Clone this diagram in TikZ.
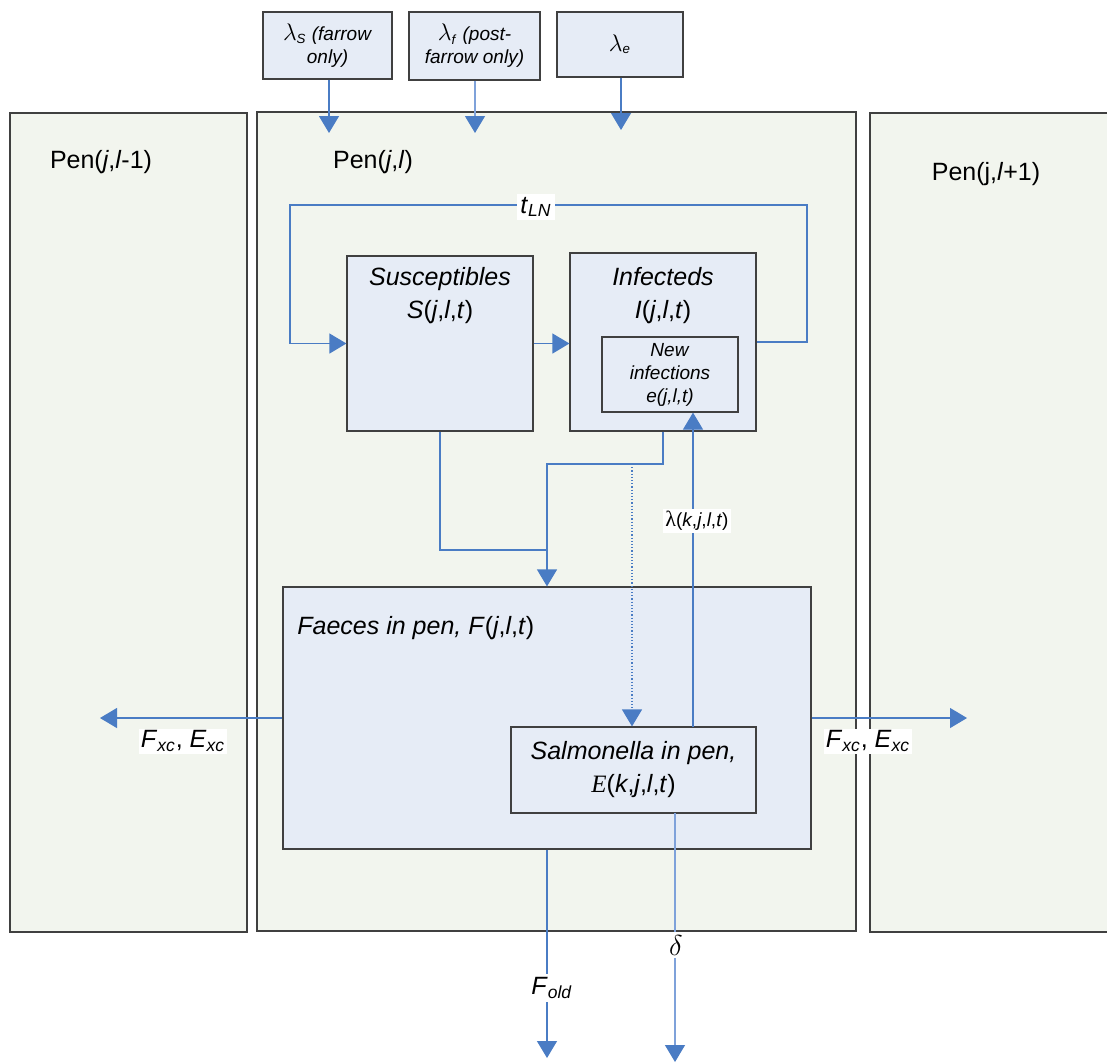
\documentclass[tikz,border=0pt]{standalone}
\usepackage{fontspec}
\setmainfont{Liberation Sans}
\newfontfamily\serifE{Liberation Serif}
\usetikzlibrary{arrows.meta}
\definecolor{penfill}{HTML}{F2F5EE}
\definecolor{boxfill}{HTML}{E6ECF6}
\definecolor{flowblue}{HTML}{4A7CC4}
\definecolor{paleblue}{HTML}{7FA2DA}
\definecolor{edgegrey}{HTML}{404040}
\newcommand{\biglam}{{\fontsize{13}{13}\selectfont$\lambda$}}
\tikzset{
  penbox/.style={draw=edgegrey, fill=penfill, line width=0.6pt, inner sep=0pt},
  compbox/.style={draw=edgegrey, fill=boxfill, line width=0.6pt, inner sep=0pt},
  txt/.style={font=\fontsize{12.5}{16.5}\selectfont, align=center, inner sep=1pt},
  smalltxt/.style={font=\fontsize{9.5}{11.5}\selectfont, align=center, inner sep=1pt},
  lbl/.style={fill=white, inner sep=1.5pt},
  flow/.style={draw=flowblue, line width=0.6pt, -{Triangle[length=8.5pt, width=10pt]}},
  link/.style={draw=flowblue, line width=0.6pt}
}
\begin{document}
\begin{tikzpicture}[x=0.5pt, y=-0.5pt]
	\useasboundingbox (0,0) rectangle (1107,1062);
	% pens
	\node[penbox, minimum width=118.5pt, minimum height=409.5pt] (penL) at (128.5,522.5) {};
	\node[penbox, minimum width=299.5pt, minimum height=409.5pt] (penC) at (556.5,521.5) {};
	\node[penbox, minimum width=125pt, minimum height=409.5pt] (penR) at (995,522.5) {};
	\node[txt] (penLT) at (101,162) {Pen(\textit{j},\textit{l}-1)};
	\node[txt] (penCT) at (373,162) {Pen(\textit{j},\textit{l})};
	\node[txt] (penRT) at (986,174) {Pen(j,\textit{l}+1)};
	% infection sources
	\node[compbox, minimum width=64.5pt, minimum height=33.5pt] (lamS) at (327.5,45.5) {};
	\node[compbox, minimum width=65.5pt, minimum height=34pt] (lamF) at (474.5,46) {};
	\node[compbox, minimum width=63pt, minimum height=32.5pt] (lamE) at (620,44.5) {};
	\node[smalltxt] (lamST) at (lamS) {\biglam\textsubscript{\textit{S}} \textit{(farrow}\\\textit{only)}};
	\node[smalltxt] (lamFT) at (lamF) {\biglam\textsubscript{\textit{f}} \textit{(post-}\\\textit{farrow only)}};
	\node[smalltxt] (lamET) at (lamE) {\biglam\textsubscript{\textit{e}}};
	\coordinate (lamSin) at (329,133);
	\coordinate (lamFin) at (475,133);
	\coordinate (lamEin) at (621,130);
	\draw[flow] (lamSin |- lamS.south) -- (lamSin);
	\draw[flow, draw=paleblue, -{Triangle[length=8.5pt, width=10pt, color=flowblue]}] (lamFin |- lamF.south) -- (lamFin);
	\draw[flow] (lamEin |- lamE.south) -- (lamEin);
	% pigs
	\node[compbox, minimum width=93pt, minimum height=87.5pt] (sus) at (440,343.5) {};
	\node[compbox, minimum width=93pt, minimum height=89pt] (inf) at (663,342) {};
	\node[compbox, minimum width=68pt, minimum height=37.5pt] (newinf) at (670,374.5) {};
	\node[txt] (susT) at (440,296) {\textit{Susceptibles}\\\textit{S}(\textit{j},\textit{l},\textit{t})};
	\node[txt] (infT) at (663,296) {\textit{Infecteds}\\\textit{I}(\textit{j},\textit{l},\textit{t})};
	\node[smalltxt] (newinfT) at (newinf) {\textit{New}\\\textit{infections}\\\textit{e(j,l,t)}};
	\draw[flow] (sus.east) -- (sus.east -| inf.west);
	\coordinate (loopR) at (807,205);
	\coordinate (loopL) at (290,205);
	\draw[flow] (inf.east) -| (loopR) -- (loopL) |- (sus.west);
	\node[lbl, font=\fontsize{12.5}{14}\selectfont] (tLN) at (536,207) {\textit{t}\textsubscript{\textit{LN}}};
	% faeces
	\node[compbox, minimum width=264pt, minimum height=131pt] (faec) at (547,718) {};
	\node[compbox, minimum width=122.5pt, minimum height=43pt] (salm) at (633.5,770) {};
	\node[txt, anchor=west] (faecT) at (295,628) {\textit{Faeces in pen, F}(\textit{j},\textit{l},\textit{t})};
	\node[txt] (salmT) at (633.5,770) {\textit{Salmonella in pen,}\\{\serifE\itshape E}(\textit{k},\textit{j},\textit{l},\textit{t})};
	\coordinate (join) at (547,550);
	\coordinate (split) at (547,464);
	\coordinate (dotS) at (632,464);
	\draw[link] (sus.south) |- (join);
	\draw[flow] (inf.south) |- (split) -- (split |- faec.north);
	\draw[flow, densely dotted] (dotS) -- (dotS |- salm.north);
	\coordinate (lamK) at (693,727);
	\draw[flow] (lamK) -- (lamK |- newinf.south);
	\node[lbl, smalltxt] (lamKT) at (697,521) {{\serifE\fontsize{11}{11}\selectfont λ}(\textit{k},\textit{j},\textit{l},\textit{t})};
	% exchange with neighbour pens
	\coordinate (xcL) at (100,718);
	\coordinate (xcR) at (967,718);
	\draw[flow] (faec.west) -- (xcL);
	\draw[flow] (faec.east) -- (xcR);
	\node[lbl, txt] (xcLT) at (183,741) {\textit{F}\textsubscript{\textit{xc}}, \textit{E}\textsubscript{\textit{xc}}};
	\node[lbl, txt] (xcRT) at (868,741) {\textit{F}\textsubscript{\textit{xc}}, \textit{E}\textsubscript{\textit{xc}}};
	% losses
	\coordinate (oldOut) at (547,1058);
	\coordinate (delTop) at (675,813);
	\coordinate (delOut) at (675,1062);
	\draw[flow] (faec.south) -- (oldOut);
	\draw[flow, draw=paleblue, -{Triangle[length=8.5pt, width=10pt, color=flowblue]}] (delTop) -- (delOut);
	\node[lbl, font=\fontsize{15}{15}\selectfont] (oldT) at (552,988) {\fontsize{12.5}{14}\selectfont\textit{F}\textsubscript{\textit{old}}};
	\node[lbl, font=\fontsize{15}{15}\selectfont] (delT) at (676,945) {$\delta$};
\end{tikzpicture}
\end{document}
